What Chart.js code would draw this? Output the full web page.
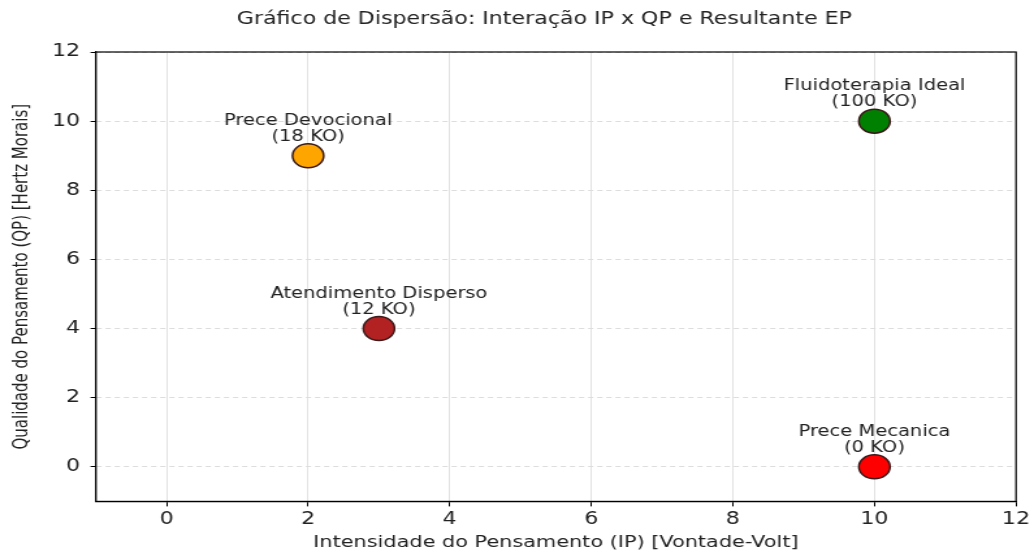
<!DOCTYPE html>
<html lang="pt">
<head>
    <meta charset="UTF-8">
    <title>Gráfico de Dispersão: Interação IP x QP e Resultante EP</title>
    <style>
        html, body {
            margin: 0;
            padding: 0;
            background: #fff;
            overflow: hidden;
        }
        /* a imagem original esta esticada na horizontal */
        .chart-container {
            width: 795px;
            height: 553px;
            transform: scaleX(1.3006);
            transform-origin: 0 0;
        }
    </style>
</head>
<body>
    <div class="chart-container">
        <canvas id="scatterChart"></canvas>
    </div>

    <script src="https://cdn.jsdelivr.net/npm/chart.js"></script>
    <script>
        const chartTitle = 'Gráfico de Dispersão: Interação IP x QP e Resultante EP';
        const pointNames = ['Prece Mecanica', 'Prece Devocional', 'Atendimento Disperso', 'Fluidoterapia Ideal'];
        const koLabels = ['(0 KO)', '(18 KO)', '(12 KO)', '(100 KO)'];
        const ipValues = [10, 2, 3, 10];
        const qpValues = [0, 9, 4, 10];
        const pointColors = ['#ff0000', '#ffa500', '#b22222', '#008000'];
        const axisTicks = [0, 2, 4, 6, 8, 10, 12];

        const fontFamily = "'DejaVu Sans', sans-serif";

        // titulo desenhado a mao, um pouco deslocado para a direita como no original
        const titlePlugin = {
            id: 'customTitle',
            afterDraw(chart) {
                const { ctx } = chart;
                ctx.save();
                ctx.fillStyle = '#222';
                ctx.font = '17px ' + fontFamily;
                ctx.textAlign = 'center';
                ctx.textBaseline = 'middle';
                ctx.fillText(chartTitle, chart.width / 2 + 21, 20);
                ctx.restore();
            }
        };

        // moldura preta em volta da area do grafico
        const framePlugin = {
            id: 'frame',
            afterDatasetsDraw(chart) {
                const { ctx, chartArea } = chart;
                ctx.save();
                ctx.strokeStyle = '#000';
                ctx.lineWidth = 1.2;
                ctx.strokeRect(chartArea.left, chartArea.top,
                    chartArea.right - chartArea.left, chartArea.bottom - chartArea.top);
                ctx.restore();
            }
        };

        // rotulos de duas linhas acima de cada ponto
        const labelPlugin = {
            id: 'pointLabels',
            afterDatasetsDraw(chart) {
                const { ctx } = chart;
                const meta = chart.getDatasetMeta(0);
                ctx.save();
                ctx.fillStyle = '#222';
                ctx.font = '15px ' + fontFamily;
                ctx.textAlign = 'center';
                ctx.textBaseline = 'alphabetic';
                meta.data.forEach((pt, i) => {
                    ctx.fillText(pointNames[i], pt.x, pt.y - 31);
                    ctx.fillText(koLabels[i], pt.x, pt.y - 15);
                });
                ctx.restore();
            }
        };

        const ctx = document.getElementById('scatterChart').getContext('2d');
        new Chart(ctx, {
            type: 'scatter',
            data: {
                datasets: [{
                    label: 'EP',
                    data: ipValues.map((x, i) => ({ x: x, y: qpValues[i] })),
                    backgroundColor: pointColors,
                    borderColor: '#3a1a1a',
                    borderWidth: 1.5,
                    pointRadius: 12,
                    pointHoverRadius: 12
                }]
            },
            options: {
                responsive: true,
                maintainAspectRatio: false,
                animation: false,
                layout: { padding: { top: 52, right: 10, bottom: 0, left: 4 } },
                plugins: {
                    legend: { display: false },
                    tooltip: { enabled: false },
                    title: { display: false }
                },
                scales: {
                    x: {
                        type: 'linear',
                        min: -1,
                        max: 12,
                        ticks: {
                            color: '#222',
                            font: { family: fontFamily, size: 17 },
                            padding: 3
                        },
                        afterBuildTicks: axis => {
                            axis.ticks = axisTicks.map(v => ({ value: v }));
                        },
                        grid: {
                            color: '#e2e2e2',
                            tickColor: '#000',
                            tickLength: 5
                        },
                        border: { color: '#000', width: 1.2 },
                        title: {
                            display: true,
                            text: 'Intensidade do Pensamento (IP) [Vontade-Volt]',
                            color: '#222',
                            font: { family: fontFamily, size: 16 },
                            padding: { top: 0, bottom: 1 }
                        }
                    },
                    y: {
                        type: 'linear',
                        min: -1,
                        max: 12,
                        ticks: {
                            color: '#222',
                            font: { family: fontFamily, size: 17 },
                            padding: 8
                        },
                        afterBuildTicks: axis => {
                            axis.ticks = axisTicks.map(v => ({ value: v }));
                        },
                        grid: {
                            color: '#dddddd',
                            tickColor: '#000',
                            tickLength: 4
                        },
                        border: { color: '#000', width: 1.2, dash: [4, 3] },
                        title: {
                            display: true,
                            text: 'Qualidade do Pensamento (QP) [Hertz Morais]',
                            color: '#222',
                            font: { family: fontFamily, size: 15 },
                            padding: { top: 4, bottom: 6 }
                        }
                    }
                }
            },
            plugins: [framePlugin, labelPlugin, titlePlugin]
        });
    </script>
</body>
</html>
